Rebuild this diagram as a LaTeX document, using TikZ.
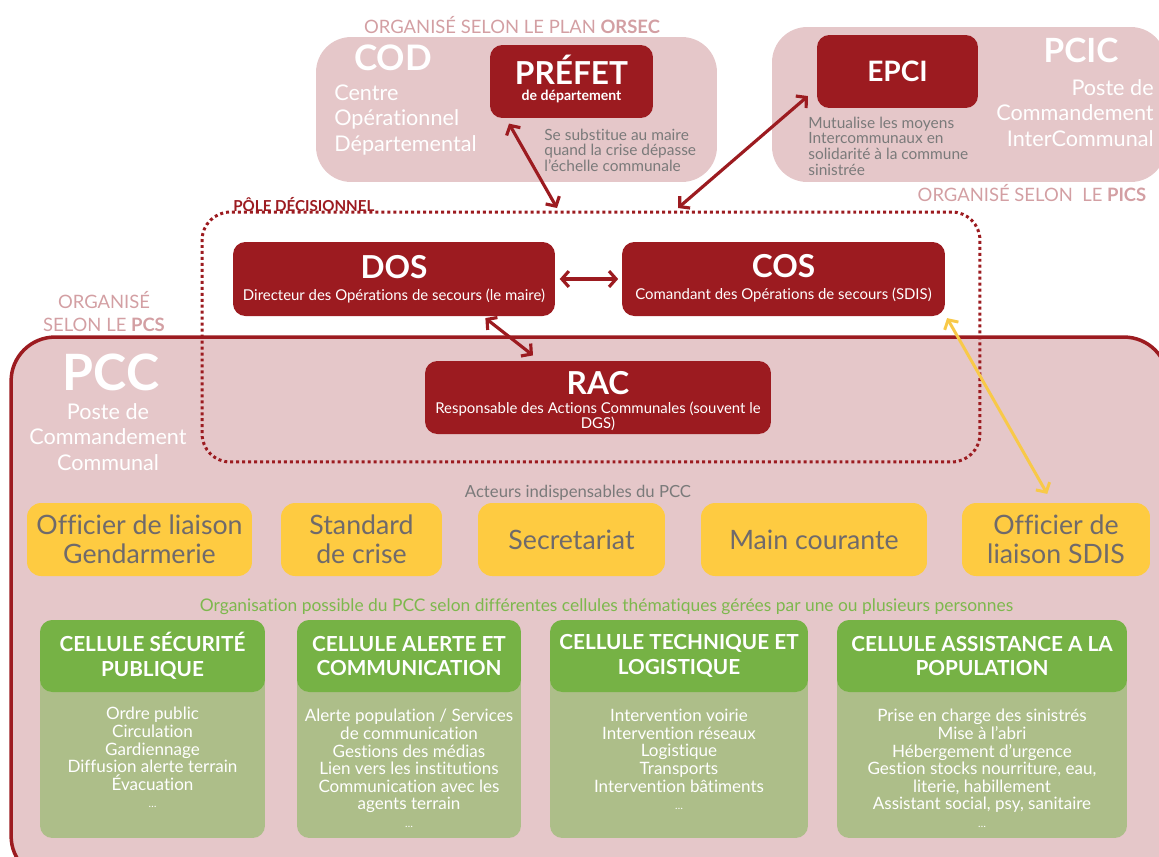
\documentclass[tikz,border=0pt]{standalone}
\usepackage{fontspec}
\setmainfont{Lato}[Ligatures=NoCommon]
\usetikzlibrary{arrows.meta}
\definecolor{crimson}{HTML}{9C1B20}
\definecolor{blush}{HTML}{E5C7C9}
\definecolor{rose}{HTML}{D39FA3}
\definecolor{slate}{HTML}{7A7A7A}
\definecolor{mustard}{HTML}{FECB41}
\definecolor{ink}{HTML}{6F6A6B}
\definecolor{leaf}{HTML}{76B245}
\definecolor{sage}{HTML}{ADBE89}
\definecolor{fern}{HTML}{7DB84D}
\definecolor{amber}{HTML}{F8C948}
\tikzset{
  redbox/.style={fill=crimson, rounded corners=7pt, inner sep=0pt},
  zone/.style={fill=blush, rounded corners=20pt, inner sep=0pt},
  actor/.style={fill=mustard, rounded corners=8pt, inner sep=0pt, minimum height=1.46cm, align=center, text=ink, font=\fontsize{15.2}{16.4}\selectfont},
  cellhead/.style={fill=leaf, rounded corners=7pt, inner sep=0pt, minimum height=1.44cm, align=center, text=white, font=\fontsize{11.8}{14}\selectfont\bfseries},
  cellbody/.style={fill=sage, rounded corners=7pt, inner sep=0pt, minimum height=4.36cm},
  celltext/.style={anchor=north, inner sep=0pt, align=center, text=white, font=\fontsize{9.7}{10}\selectfont},
  big/.style={text=white, inner sep=0pt, font=\fontsize{18}{20}\selectfont\bfseries},
  sub/.style={text=white, inner sep=0pt, align=center, font=\fontsize{8.5}{8.6}\selectfont},
  tag/.style={text=rose, inner sep=0pt, align=center, font=\fontsize{10.5}{13}\selectfont},
  note/.style={text=slate, anchor=west, align=left, inner sep=0pt, font=\fontsize{8.8}{8.9}\selectfont},
  side/.style={text=white, inner sep=0pt, font=\fontsize{12.3}{14.5}\selectfont},
  link/.style={draw=crimson, line width=1.8pt, {Straight Barb[length=4pt,width=9pt]}-{Straight Barb[length=4pt,width=9pt]}},
}
\begin{document}
\begin{tikzpicture}[x=0.02cm, y=-0.02cm]
\useasboundingbox (0,0) rectangle (1159,856);

\node[zone, minimum width=8.02cm, minimum height=2.9cm] (cod) at (516.5,109.5) {};
\node[zone, minimum width=7.88cm, minimum height=3.1cm] (pcic) at (969,104.5) {};
\node[fill=blush, draw=crimson, line width=2pt, rounded corners=25pt, minimum width=23.14cm, minimum height=10.86cm] (pcc) at (589.5,608.5) {};
\node[draw=crimson, line width=1.7pt, dash pattern=on 1.7pt off 1.7pt, rounded corners=16pt, minimum width=15.56cm, minimum height=5cm] (pole) at (591,337) {};

\node[redbox, minimum width=3.26cm, minimum height=1.46cm] (prefet) at (571.5,81.5) {};
\node[redbox, minimum width=3.22cm, minimum height=1.46cm] (epci) at (897.5,71.5) {};
\node[redbox, minimum width=6.44cm, minimum height=1.48cm] (dos) at (394,279) {};
\node[redbox, minimum width=6.46cm, minimum height=1.48cm] (cos) at (783.5,279) {};
\node[redbox, minimum width=6.92cm, minimum height=1.46cm] (rac) at (598,397.5) {};

\node[tag] (orsec) at (512,25) {ORGANISÉ SELON LE PLAN \textbf{ORSEC}};
\node[tag] (pics) at (1032,193) {ORGANISÉ SELON\ \ LE \textbf{PICS}};
\node[tag] (pcs) at (104,311.5) {ORGANISÉ\\SELON LE \textbf{PCS}};

\node[big, font=\fontsize{20}{22}\selectfont\bfseries] (cod-t) at (393,58) {COD};
\node[side, anchor=west, align=left] (cod-n) at (334,120) {Centre\\Opérationnel\\Départemental};
\node[big] (prefet-t) at (571.5,70) {PRÉFET};
\node[sub, font=\fontsize{8}{9}\selectfont\bfseries] (prefet-s) at (571.5,96) {de département};
\node[note] (prefet-n) at (544,150) {Se substitue au maire\\quand la crise dépasse\\l’échelle communale};

\node[big, font=\fontsize{16}{18}\selectfont\bfseries] (epci-t) at (897.5,71) {EPCI};
\node[note] (epci-n) at (808,146) {Mutualise les moyens\\Intercommunaux en\\solidarité à la commune\\sinistrée};
\node[big, font=\fontsize{19}{21}\selectfont\bfseries] (pcic-t) at (1081,50) {PCIC};
\node[side, anchor=east, align=right] (pcic-n) at (1154,113) {Poste de\\Commandement\\InterCommunal};

\node[text=crimson, inner sep=0pt, anchor=west, font=\fontsize{8.6}{9}\selectfont\bfseries] (pole-t) at (233,205) {PÔLE DÉCISIONNEL};
\node[big] (dos-t) at (394,267) {DOS};
\node[sub] (dos-s) at (394,296) {Directeur des Opérations de secours (le maire)};
\node[big] (cos-t) at (783.5,266) {COS};
\node[sub] (cos-s) at (783.5,295) {Comandant des Opérations de secours (SDIS)};
\node[big] (rac-t) at (598,383) {RAC};
\node[sub] (rac-s) at (598,416.5) {Responsable des Actions Communales (souvent le\\DGS)};

\node[big, font=\fontsize{28.5}{30}\selectfont\bfseries] (pcc-t) at (111,372) {PCC};
\node[side, align=center] (pcc-n) at (108,437) {Poste de\\Commandement\\Communal};

\node[text=slate, inner sep=0pt, font=\fontsize{9.5}{11}\selectfont] (actors) at (578,493) {Acteurs indispensables du PCC};
\node[actor, minimum width=4.5cm] (gend) at (139.5,539.5) {Officier de liaison\\Gendarmerie};
\node[actor, minimum width=3.22cm] (standard) at (361.5,539.5) {Standard\\de crise};
\node[actor, minimum width=3.74cm] (secr) at (571.5,539.5) {Secretariat};
\node[actor, minimum width=4.52cm] (courante) at (814,539.5) {Main courante};
\node[actor, minimum width=3.76cm] (sdis) at (1056,539.5) {Officier de\\liaison SDIS};

\node[text=fern, inner sep=0pt, font=\fontsize{9.9}{11}\selectfont] (cells) at (606.5,607) {Organisation possible du PCC selon différentes cellules thématiques gérées par une ou plusieurs personnes};

\node[cellbody, minimum width=4.5cm] (secu) at (152.5,729) {};
\node[cellhead, minimum width=4.5cm] (secu-h) at (152.5,656) {CELLULE SÉCURITÉ\\PUBLIQUE};
\node[celltext] (secu-l) at (152.5,707) {Ordre public\\Circulation\\Gardiennage\\Diffusion alerte terrain\\Évacuation\\{\fontsize{6}{10}\selectfont …}};

\node[cellbody, minimum width=4.48cm] (alerte) at (409,729) {};
\node[cellhead, minimum width=4.48cm] (alerte-h) at (409,656) {CELLULE ALERTE ET\\COMMUNICATION};
\node[celltext] (alerte-l) at (409,709) {Alerte population / Services\\de communication\\Gestions des médias\\Lien vers les institutions\\Communication avec les\\agents terrain\\{\fontsize{6}{10}\selectfont …}};

\node[cellbody, minimum width=5.16cm] (tech) at (679,729) {};
\node[cellhead, minimum width=5.16cm] (tech-h) at (679,656) {CELLULE TECHNIQUE ET\\LOGISTIQUE};
\node[celltext] (tech-l) at (679,709) {Intervention voirie\\Intervention réseaux\\Logistique\\Transports\\Intervention bâtiments\\{\fontsize{6}{10}\selectfont …}};

\node[cellbody, minimum width=5.8cm] (assist) at (982,729) {};
\node[cellhead, minimum width=5.8cm] (assist-h) at (982,656) {CELLULE ASSISTANCE A LA\\POPULATION};
\node[celltext] (assist-l) at (982,709) {Prise en charge des sinistrés\\Mise à l’abri\\Hébergement d’urgence\\Gestion stocks nourriture, eau,\\literie, habillement\\Assistant social, psy, sanitaire\\{\fontsize{6}{10}\selectfont …}};

\coordinate (pole-a) at (557,208);
\coordinate (pole-b) at (678,208);
\draw[link] ([shift={(11pt,-3pt)}]prefet.south west) -- (pole-a);
\draw[link] (pole-b) -- ([shift={(-5pt,7pt)}]epci.south west);
\draw[link, shorten <=2.5pt, shorten >=2pt] (dos.east) -- (cos.west);
\draw[link] ([shift={(52pt,-1pt)}]dos.south) -- ([shift={(-37pt,3pt)}]rac.north);
\draw[draw=amber, line width=1.7pt, {Straight Barb[length=4pt,width=9pt]}-{Straight Barb[length=4pt,width=9pt]}] ([shift={(1pt,-1pt)}]cos.south east) -- ([shift={(-5pt,5pt)}]sdis.north);
\end{tikzpicture}
\end{document}
